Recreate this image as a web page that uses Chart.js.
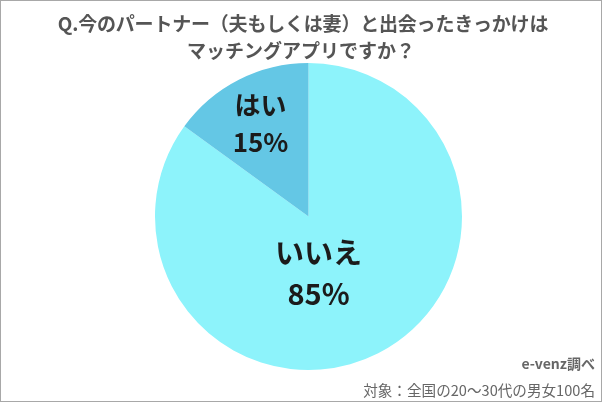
<!DOCTYPE html>
<html>
<head>
<meta charset="utf-8">
<script src="https://cdn.jsdelivr.net/npm/chart.js@4.4.0/dist/chart.umd.js"></script>
<style>
  html, body { margin: 0; padding: 0; background: #fff; }
  .frame {
    width: 600px;
    height: 400px;
    border: 1px solid #a8a8a8;
    position: relative;
  }
  canvas { display: block; }
</style>
</head>
<body>
<div class="frame">
  <canvas id="chart" width="600" height="400"></canvas>
</div>
<script>
// data
const categories = ['いいえ', 'はい'];
const shares = [85, 15];
const sliceColors = ['#8DF3FB', '#64C7E5'];
const titleLines = ['Q.今のパートナー（夫もしくは妻）と出会ったきっかけは', 'マッチングアプリですか？'];
const sourceNote = 'e-venz調べ';
const sampleNote = '対象：全国の20～30代の男女100名';

const FONT = "'Noto Sans CJK JP', 'Noto Sans', sans-serif";

// labels sit inside slices, offsets from the pie centre
const labelOffsets = [
  {dx: 10, dy: 36, gap: 41, size: 29},    // いいえ
  {dx: -48, dy: -111, gap: 37, size: 26}, // はい
];

const textPlugin = {
  id: 'texts',
  afterDraw(chart) {
    const ctx = chart.ctx;
    ctx.save();
    ctx.textAlign = 'center';
    ctx.textBaseline = 'middle';

    // title
    ctx.fillStyle = '#555555';
    ctx.font = 'bold 19px ' + FONT;
    ctx.letterSpacing = '-0.2px';
    ctx.fillText(titleLines[0], 302, 23);
    ctx.letterSpacing = '0px';
    ctx.fillText(titleLines[1], 300, 50);

    // slice labels
    const arc = chart.getDatasetMeta(0).data[0];
    const cx = arc.x, cy = arc.y;
    ctx.fillStyle = '#1b1b1b';
    categories.forEach((name, i) => {
      const off = labelOffsets[i];
      ctx.font = 'bold ' + off.size + 'px ' + FONT;
      ctx.fillText(name, cx + off.dx, cy + off.dy);
      ctx.fillText(shares[i] + '%', cx + off.dx, cy + off.dy + off.gap);
    });

    // footnotes
    ctx.textAlign = 'right';
    ctx.fillStyle = '#666666';
    ctx.font = 'bold 14px ' + FONT;
    ctx.fillText(sourceNote, 594, 363);
    ctx.font = '14.6px ' + FONT;
    ctx.fillText(sampleNote, 594, 389);
    ctx.restore();
  }
};

new Chart(document.getElementById('chart'), {
  type: 'pie',
  data: {
    labels: categories,
    datasets: [{
      data: shares,
      backgroundColor: sliceColors,
      borderColor: '#ffffff',
      borderWidth: 0,
    }]
  },
  options: {
    responsive: false,
    animation: false,
    layout: {padding: {left: 154, right: 139, top: 62, bottom: 31}},
    plugins: {
      legend: {display: false},
      tooltip: {enabled: false},
      title: {display: false},
    },
  },
  plugins: [textPlugin],
});
</script>
</body>
</html>
